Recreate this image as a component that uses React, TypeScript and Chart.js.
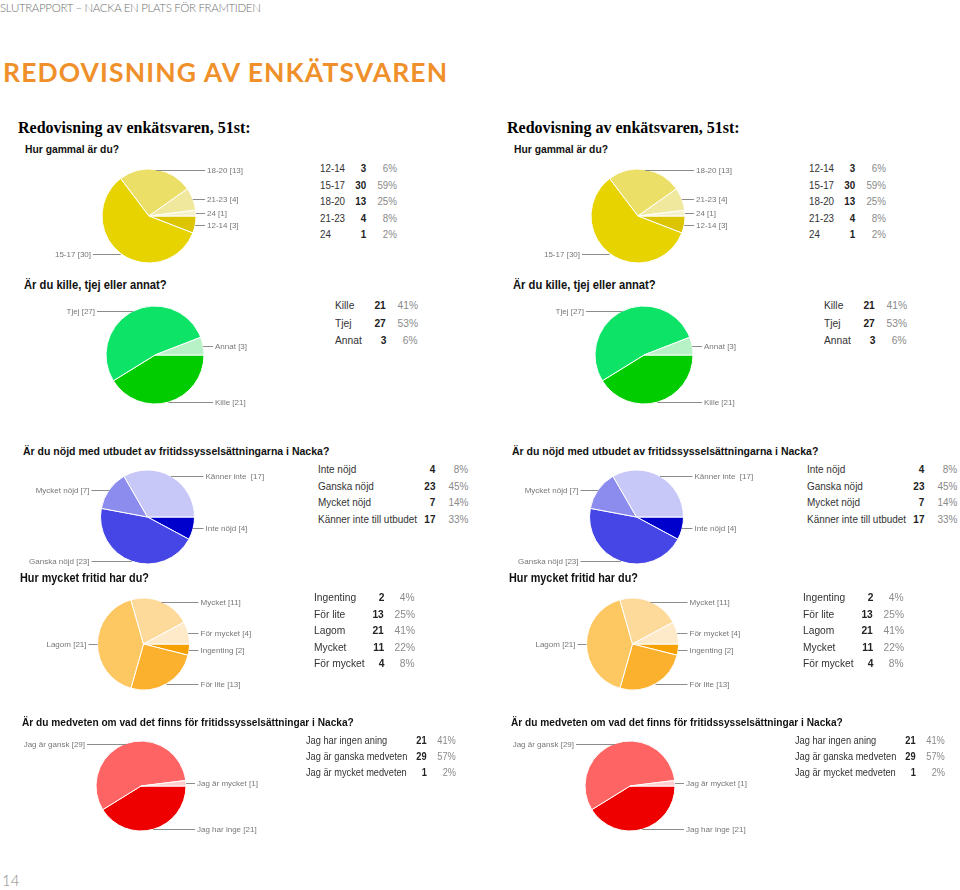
import React, { useEffect, useRef } from "react";
import { Chart, registerables } from "chart.js";

Chart.register(...registerables);

// ---------- data ----------
const questionTitles = [
  "Hur gammal är du?",
  "Är du kille, tjej eller annat?",
  "Är du nöjd med utbudet av fritidssysselsättningarna i Nacka?",
  "Hur mycket fritid har du?",
  "Är du medveten om vad det finns för fritidssysselsättningar i Nacka?",
];

const ageLabels = ["12-14", "15-17", "18-20", "21-23", "24"];
const agePieLabels = ["12-14", "15-17", "18-20", "21-23", "24"];
const ageCounts = [3, 30, 13, 4, 1];
const agePercents = [6, 59, 25, 8, 2];
const ageColors = ["#dcc400", "#e6d300", "#ebdf68", "#f0e89c", "#f5f1cc"];

const genderLabels = ["Kille", "Tjej", "Annat"];
const genderPieLabels = ["Kille", "Tjej", "Annat"];
const genderCounts = [21, 27, 3];
const genderPercents = [41, 53, 6];
const genderColors = ["#00cc00", "#0de366", "#b6f2c6"];

const offerLabels = ["Inte nöjd", "Ganska nöjd", "Mycket nöjd", "Känner inte till utbudet"];
const offerPieLabels = ["Inte nöjd", "Ganska nöjd", "Mycket nöjd", "Känner inte "];
const offerCounts = [4, 23, 7, 17];
const offerPercents = [8, 45, 14, 33];
const offerColors = ["#0000cc", "#4646e6", "#8c8cee", "#c8c8f8"];

const freeLabels = ["Ingenting", "För lite", "Lagom", "Mycket", "För mycket"];
const freePieLabels = ["Ingenting", "För lite", "Lagom", "Mycket", "För mycket"];
const freeCounts = [2, 13, 21, 11, 4];
const freePercents = [4, 25, 41, 22, 8];
const freeColors = ["#f6a100", "#fbb12e", "#fdc762", "#fdd99a", "#feeac8"];

const awareLabels = ["Jag har ingen aning", "Jag är ganska medveten", "Jag är mycket medveten"];
const awarePieLabels = ["Jag har inge", "Jag är gansk", "Jag är mycket"];
const awareCounts = [21, 29, 1];
const awarePercents = [41, 57, 2];
const awareColors = ["#ee0000", "#ff6464", "#ffcece"];

// ---------- layout (positions only) ----------
const panelLayout = [
  { titleX: 25, titleY: 149, titleSize: 11.6, cx: 149, cy: 216, r: 47, tableX: 320, rowY: 168, rowStep: 16.5, tableSize: 11, countR: 366, pctR: 397 },
  { titleX: 24, titleY: 285, titleSize: 12.6, cx: 155, cy: 355, r: 49, tableX: 335, rowY: 305, rowStep: 17.5, tableSize: 11.5, countR: 386, pctR: 418 },
  { titleX: 23, titleY: 451, titleSize: 11.8, cx: 147.5, cy: 517, r: 47, tableX: 318, rowY: 469, rowStep: 16.5, tableSize: 11.2, countR: 435, pctR: 468 },
  { titleX: 20, titleY: 578, titleSize: 12.2, cx: 143.5, cy: 643.5, r: 46, tableX: 314, rowY: 597, rowStep: 16.5, tableSize: 11.5, countR: 384, pctR: 415 },
  { titleX: 22, titleY: 722, titleSize: 11.4, cx: 141, cy: 786, r: 45, tableX: 306, rowY: 741, rowStep: 16, tableSize: 10.4, countR: 427, pctR: 456 },
];

const panelData = [
  { labels: ageLabels, pieLabels: agePieLabels, counts: ageCounts, percents: agePercents, colors: ageColors },
  { labels: genderLabels, pieLabels: genderPieLabels, counts: genderCounts, percents: genderPercents, colors: genderColors },
  { labels: offerLabels, pieLabels: offerPieLabels, counts: offerCounts, percents: offerPercents, colors: offerColors },
  { labels: freeLabels, pieLabels: freePieLabels, counts: freeCounts, percents: freePercents, colors: freeColors },
  { labels: awareLabels, pieLabels: awarePieLabels, counts: awareCounts, percents: awarePercents, colors: awareColors },
];

const COLUMN_OFFSETS = [0, 489];
const SANS = '"Liberation Sans", Arial, Helvetica, sans-serif';
const SQUASH = 0.89;

const leaderPlugin = {
  id: "leaderLabels",
  afterDatasetsDraw(chart: any) {
    const ctx = chart.ctx;
    const meta = chart.getDatasetMeta(0);
    const lbls = chart.data.labels as string[];
    ctx.save();
    ctx.font = `8px ${SANS}`;
    ctx.textBaseline = "middle";
    meta.data.forEach((arc: any, i: number) => {
      const p = arc.getProps(["x", "y", "startAngle", "endAngle", "outerRadius"], true);
      const mid = (p.startAngle + p.endAngle) / 2;
      const px = p.x + Math.cos(mid) * p.outerRadius;
      const py = Math.round(p.y + Math.sin(mid) * p.outerRadius) + 0.5;
      const side = Math.cos(mid) >= 0 ? 1 : -1;
      const ex = p.x + side * (p.outerRadius + 9);
      ctx.strokeStyle = "#8c8c8c";
      ctx.lineWidth = 1;
      ctx.beginPath();
      ctx.moveTo(px, py);
      ctx.lineTo(ex, py);
      ctx.stroke();
      ctx.fillStyle = "#777777";
      ctx.textAlign = side > 0 ? "left" : "right";
      ctx.fillText(lbls[i], ex + side * 2, py);
    });
    ctx.restore();
  },
};

function PieChart({ pieLabels, counts, colors, cx, cy, r, colX }: any) {
  const ref = useRef<HTMLCanvasElement | null>(null);
  const W = 300;
  const H = Math.round(2 * r + 24);
  const top = cy - H / 2;
  useEffect(() => {
    if (!ref.current) return;
    const padL = cx - r - 0.5;
    const padR = W - (cx + r + 0.5);
    const padV = (H - (2 * r + 1)) / 2;
    const chart = new Chart(ref.current, {
      type: "pie",
      data: {
        labels: pieLabels.map((l: string, i: number) => `${l} [${counts[i]}]`),
        datasets: [
          {
            data: counts,
            backgroundColor: colors,
            borderColor: "#ffffff",
            borderWidth: 1,
          },
        ],
      },
      options: {
        responsive: false,
        animation: false,
        rotation: 90,
        layout: { padding: { left: padL, right: padR, top: padV, bottom: padV } },
        plugins: { legend: { display: false }, tooltip: { enabled: false }, title: { display: false } },
      },
      plugins: [leaderPlugin],
    });
    return () => chart.destroy();
  }, []);
  return (
    <canvas
      ref={ref}
      width={W}
      height={H}
      style={{ position: "absolute", left: colX, top, width: W, height: H }}
    />
  );
}

function Text({ x, y, h = 14, align = "left", sx = 1, style, children }: any) {
  const base: any = {
    position: "absolute",
    top: y - h / 2,
    height: h,
    lineHeight: `${h}px`,
    whiteSpace: "nowrap",
  };
  if (align === "right") {
    base.right = 960 - x;
    base.textAlign = "right";
    base.transformOrigin = "right center";
  } else {
    base.left = x;
    base.transformOrigin = "left center";
  }
  if (sx !== 1) base.transform = `scaleX(${sx})`;
  return <div style={{ ...base, ...style }}>{children}</div>;
}

function Column({ colX }: any) {
  return (
    <>
      <Text x={colX + 18} y={128} h={20} style={{ fontFamily: '"Liberation Serif", "Times New Roman", serif', fontWeight: 700, fontSize: 16, color: "#000" }}>
        Redovisning av enkätsvaren, 51st:
      </Text>
      {panelLayout.map((L, qi) => {
        const d = panelData[qi];
        const ts = { fontFamily: SANS, fontSize: L.tableSize };
        return (
          <React.Fragment key={qi}>
            <Text x={colX + L.titleX} y={L.titleY} h={16} sx={SQUASH} style={{ fontFamily: SANS, fontWeight: 700, fontSize: L.titleSize, color: "#111" }}>
              {questionTitles[qi]}
            </Text>
            <PieChart pieLabels={d.pieLabels} counts={d.counts} colors={d.colors} cx={L.cx} cy={L.cy} r={L.r} colX={colX} />
            {d.labels.map((lab: string, i: number) => {
              const y = L.rowY + i * L.rowStep;
              return (
                <React.Fragment key={i}>
                  <Text x={colX + L.tableX} y={y} sx={SQUASH} style={{ ...ts, color: "#333" }}>{lab}</Text>
                  <Text x={colX + L.countR} y={y} sx={SQUASH} align="right" style={{ ...ts, fontWeight: 700, color: "#222" }}>{d.counts[i]}</Text>
                  <Text x={colX + L.pctR} y={y} sx={SQUASH} align="right" style={{ ...ts, color: "#8a8a8a" }}>{`${d.percents[i]}%`}</Text>
                </React.Fragment>
              );
            })}
          </React.Fragment>
        );
      })}
    </>
  );
}

export default function App() {
  return (
    <div style={{ position: "absolute", left: 0, top: 0, width: 960, height: 890, background: "#fff", overflow: "hidden" }}>
      <Text x={0} y={8} h={14} style={{ fontFamily: 'Lato, "Open Sans", sans-serif', fontWeight: 300, fontSize: 11.5, color: "#707070", letterSpacing: -0.35 }}>
        SLUTRAPPORT – NACKA EN PLATS FÖR FRAMTIDEN
      </Text>
      <Text x={3} y={72} h={34} style={{ fontFamily: 'Lato, "Open Sans", sans-serif', fontWeight: 700, fontSize: 26.5, color: "#f0902a", letterSpacing: 1.1 }}>
        REDOVISNING AV ENKÄTSVAREN
      </Text>
      {COLUMN_OFFSETS.map((cx) => (
        <Column key={cx} colX={cx} />
      ))}
      <Text x={2} y={880} h={18} style={{ fontFamily: 'Lato, "Open Sans", sans-serif', fontWeight: 300, fontSize: 15, color: "#8a8a8a" }}>
        14
      </Text>
    </div>
  );
}
